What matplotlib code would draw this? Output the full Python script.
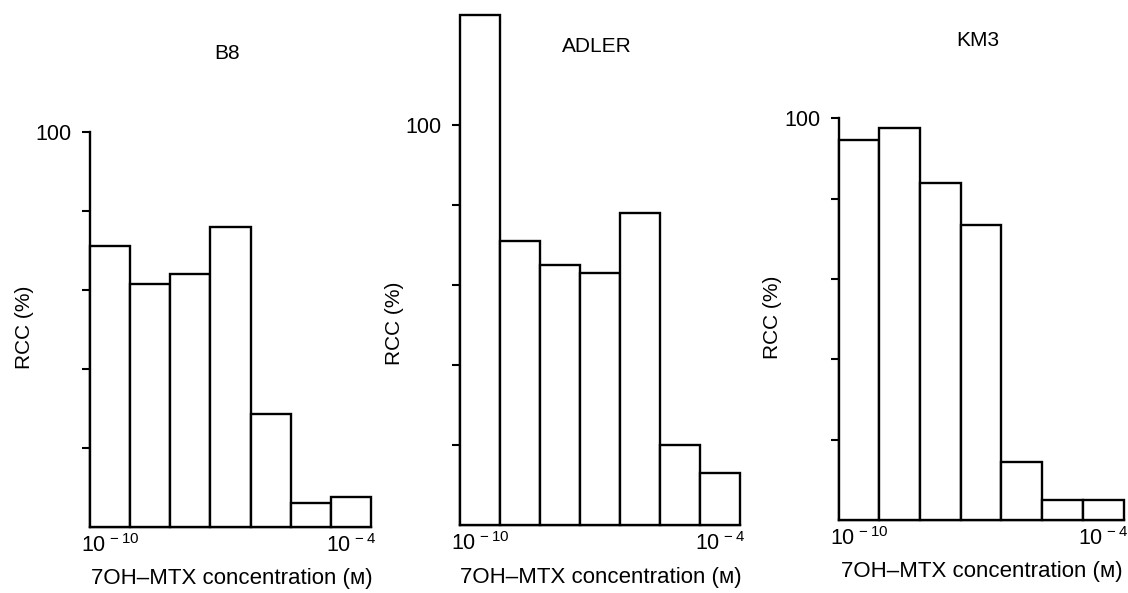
"""
RCC (%) frente a la concentracion de 7OH-MTX para tres lineas celulares.
Histogramas de barras contiguas, una barra por decada de concentracion.
"""
import numpy as np
import matplotlib
matplotlib.use("Agg")
import matplotlib.pyplot as plt

plt.rcParams["font.family"] = ["Liberation Sans", "DejaVu Sans"]
plt.rcParams["mathtext.fontset"] = "custom"
plt.rcParams["mathtext.rm"] = "Liberation Sans"
plt.rcParams["mathtext.it"] = "Liberation Sans:italic"
plt.rcParams["mathtext.bf"] = "Liberation Sans:bold"

# exponente log10 de la concentracion (M) de cada barra
log_conc = [-10, -9, -8, -7, -6, -5, -4]
xtick_pos = [-10, -4]
xtick_labels = [r"$10^{\,-10}$", r"$10^{\,-4}$"]
ytick_pos = [20, 40, 60, 80, 100]
ytick_labels = ["", "", "", "", "100"]

panels = ["B8", "ADLER", "KM3"]
rcc_b8 = [71, 61.5, 64, 76, 28.5, 6, 7.5]
rcc_adler = [127.5, 71, 65, 63, 78, 20, 13]
rcc_km3 = [94.5, 97.5, 84, 73.5, 14.5, 5, 5]
series = [rcc_b8, rcc_adler, rcc_km3]

xlabel = "7OH\u2013MTX concentration (\u1d0d)"
ylabel = "RCC (%)"

W, H = 1128, 593
# rectangulo de cada eje en pixeles: izquierda, derecha, linea base, y de 100
boxes = [(90, 371, 526.7, 131.7),
         (460, 740, 525, 125),
         (838.5, 1123.5, 520, 118.3)]

fig = plt.figure(figsize=(W / 100, H / 100), dpi=100)
PX = 0.72  # puntos por pixel a 100 dpi

for name, vals, (l, r, b, t) in zip(panels, series, boxes):
    ax = fig.add_axes([l / W, (H - b) / H, (r - l) / W, (b - t) / H])
    ax.bar(log_conc, vals, width=1.0, color="white", edgecolor="black",
           linewidth=1.7, clip_on=False, zorder=3)
    ax.set_xlim(-10.5, -3.5)
    ax.set_ylim(0, 100)
    for s in ("top", "right"):
        ax.spines[s].set_visible(False)
    for s in ("left", "bottom"):
        ax.spines[s].set_linewidth(1.7)
    ax.set_yticks(ytick_pos)
    ax.set_yticklabels(ytick_labels, fontsize=15.5)
    ax.tick_params(axis="y", direction="out", length=6, width=1.5, pad=7)
    ax.set_xticks(xtick_pos)
    ax.set_xticklabels(xtick_labels, fontsize=15.5)
    ax.tick_params(axis="x", length=0, pad=5)
    ax.annotate(name, xy=(0.5, 1), xycoords="axes fraction",
                xytext=(-3 * PX, 78 * PX), textcoords="offset points",
                ha="center", va="center", fontsize=15)
    ax.annotate(xlabel, xy=(0.5, 0), xycoords="axes fraction",
                xytext=(1 * PX, -52 * PX), textcoords="offset points",
                ha="center", va="center", fontsize=16)
    ax.annotate(ylabel, xy=(0, 0.5), xycoords="axes fraction",
                xytext=(-66 * PX, 2 * PX), textcoords="offset points",
                ha="center", va="center", rotation=90, fontsize=15)

fig.savefig("out.png", dpi=100, facecolor="white")
